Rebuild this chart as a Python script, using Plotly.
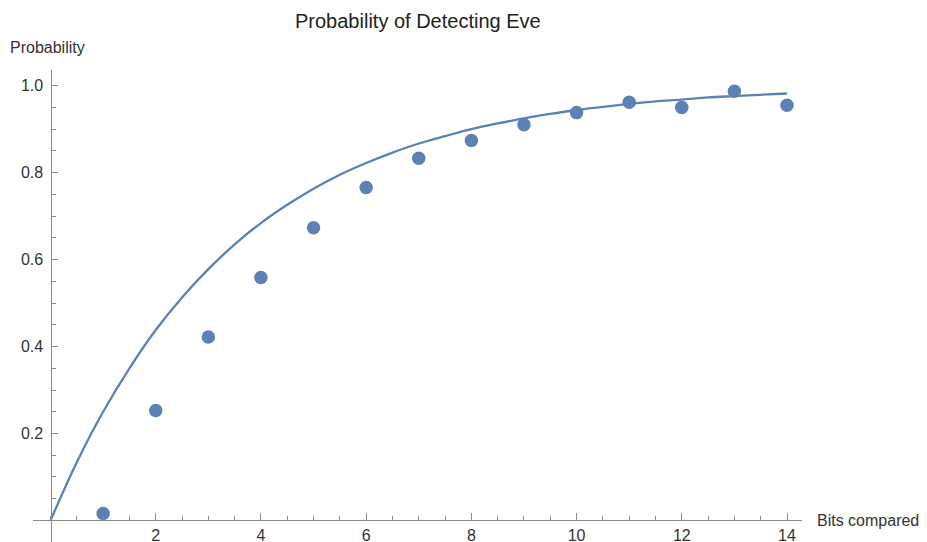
import plotly.graph_objects as go

# ---- data ----
bits = [1, 2, 3, 4, 5, 6, 7, 8, 9, 10, 11, 12, 13, 14]
prob_points = [0.016, 0.253, 0.422, 0.559, 0.673, 0.766, 0.833, 0.874,
               0.910, 0.938, 0.962, 0.950, 0.987, 0.955]

curve_x = [0, 0.5, 1, 1.5, 2, 2.5, 3, 3.5, 4, 4.5, 5, 5.5, 6, 6.5, 7,
           7.5, 8, 8.5, 9, 9.5, 10, 10.5, 11, 11.5, 12, 12.5, 13, 13.5, 14]
curve_y = [0.0, 0.134, 0.250, 0.350, 0.438, 0.513, 0.578, 0.635, 0.684,
           0.726, 0.763, 0.795, 0.822, 0.846, 0.867, 0.884, 0.900, 0.913,
           0.925, 0.935, 0.944, 0.951, 0.958, 0.964, 0.968, 0.973, 0.976,
           0.979, 0.982]

x_tickvals = [2, 4, 6, 8, 10, 12, 14]
x_ticktext = ["2", "4", "6", "8", "10", "12", "14"]
y_tickvals = [0.2, 0.4, 0.6, 0.8, 1.0]
y_ticktext = ["0.2", "0.4", "0.6", "0.8", "1.0"]

title_text = "Probability of Detecting Eve"
y_label = "Probability"
x_label = "Bits compared"

# ---- styling ----
W, H = 927, 542
OFF = 8  # page body margin in the browser
BLUE = "#5E81B5"
AXIS = "#8a8a8a"
TXT = "#333333"
FONT = "Liberation Sans, Arial, sans-serif"

fig = go.Figure()
fig.add_trace(go.Scatter(x=curve_x, y=curve_y, mode="lines",
                         line=dict(color=BLUE, width=2.3, shape="spline", smoothing=1.0),
                         hoverinfo="skip", showlegend=False))
fig.add_trace(go.Scatter(x=bits, y=prob_points, mode="markers",
                         marker=dict(color=BLUE, size=13.5, line=dict(width=0)),
                         showlegend=False))

# pixel layout (screen targets minus the body offset)
x_left_px, x_right_px = 33 - OFF, 802 - OFF
y_top_px, y_bot_px = 70 - OFF, 542 - OFF
x_domain = [x_left_px / W, x_right_px / W]
y_domain = [(H - y_bot_px) / H, (H - y_top_px) / H]
x_range = [-0.333, 14.285]
y_range = [-0.0495, 1.036]
x0_px = x_left_px + (0 - x_range[0]) / (x_range[1] - x_range[0]) * (x_right_px - x_left_px)
y0_px = y_bot_px - (0 - y_range[0]) / (y_range[1] - y_range[0]) * (y_bot_px - y_top_px)

fig.update_layout(
    template="none",
    width=W, height=H,
    margin=dict(l=0, r=0, t=0, b=0),
    paper_bgcolor="white", plot_bgcolor="rgba(0,0,0,0)",
    font=dict(family=FONT, color=TXT, size=16),
    xaxis=dict(domain=x_domain, range=x_range, anchor="free",
               position=(H - y0_px) / H,
               showgrid=False, zeroline=False, showline=True,
               linecolor=AXIS, linewidth=1.3,
               ticks="inside", ticklen=7, tickwidth=1.2, tickcolor=AXIS,
               tickmode="array", tickvals=x_tickvals, ticktext=x_ticktext,
               tickfont=dict(size=16, color=TXT), automargin=False,
               ticklabelstandoff=0,
               minor=dict(ticks="inside", ticklen=4, tickwidth=1.1,
                          tickcolor=AXIS, dtick=0.5, tick0=0, showgrid=False)),
    yaxis=dict(domain=y_domain, range=y_range, anchor="free",
               position=x0_px / W,
               showgrid=False, zeroline=False, showline=True,
               linecolor=AXIS, linewidth=1.3,
               ticks="inside", ticklen=6, tickwidth=1.2, tickcolor=AXIS,
               tickmode="array", tickvals=y_tickvals, ticktext=y_ticktext,
               tickfont=dict(size=16, color=TXT), automargin=False,
               ticklabelstandoff=4,
               minor=dict(ticks="inside", ticklen=4, tickwidth=1.1,
                          tickcolor=AXIS, dtick=0.05, tick0=0, showgrid=False)),
    annotations=[
        dict(text=title_text, x=(418 - OFF) / W, y=1 - (21 - OFF) / H,
             xref="paper", yref="paper",
             xanchor="center", yanchor="middle", showarrow=False,
             font=dict(size=20, color="#222222", family=FONT)),
        dict(text=y_label, x=0, y=1 - (47 - OFF) / H, xref="paper", yref="paper",
             xanchor="left", yanchor="middle", showarrow=False,
             font=dict(size=16, color=TXT, family=FONT)),
        dict(text=x_label, x=(815 - OFF) / W, y=1 - (520 - OFF) / H,
             xref="paper", yref="paper",
             xanchor="left", yanchor="middle", showarrow=False,
             font=dict(size=16, color=TXT, family=FONT)),
    ],
)

fig.write_html("out.html")
